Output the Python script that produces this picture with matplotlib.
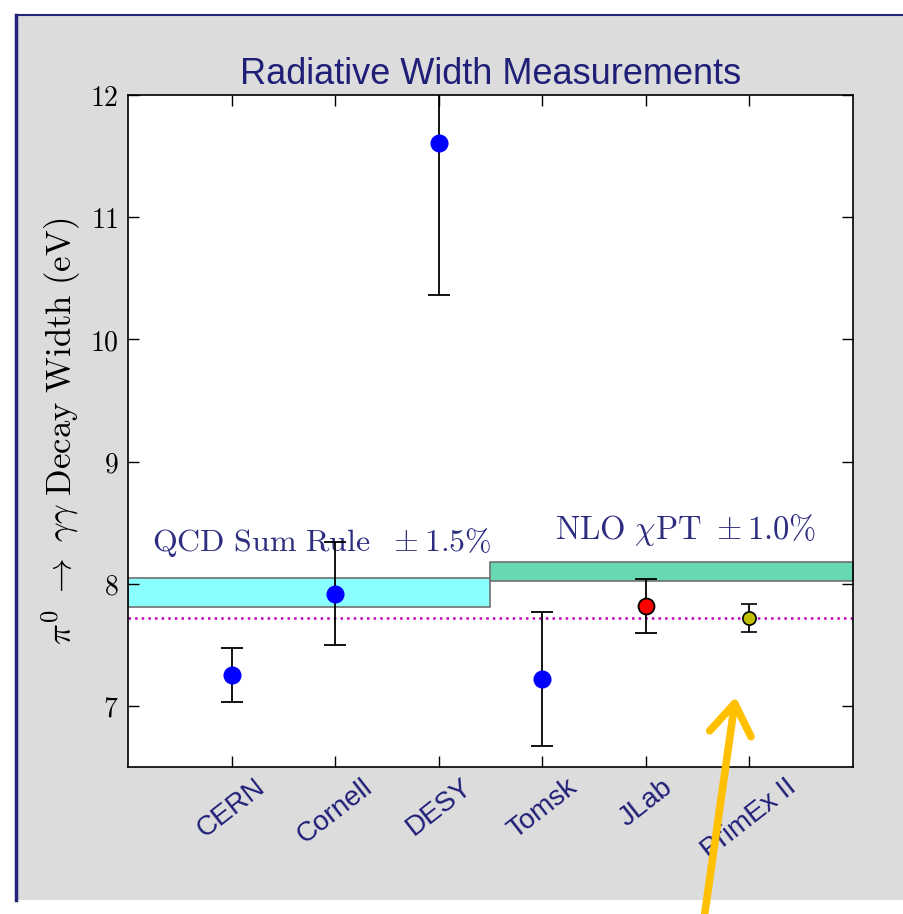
import numpy as np
import matplotlib.pyplot as plt
from matplotlib.patches import Rectangle
from matplotlib.lines import Line2D

plt.rcParams['mathtext.fontset'] = 'cm'

# measurements of the pi0 -> gamma gamma width (eV)
labels = ['CERN', 'Cornell', 'DESY', 'Tomsk', 'JLab', 'PrimEx II']
widths = [7.25, 7.92, 11.61, 7.22, 7.82, 7.72]
errors = [0.22, 0.42, 1.25, 0.55, 0.22, 0.115]

# theory bands: centre value and relative uncertainty
qcd_center, qcd_rel = 7.93, 0.015
nlo_center, nlo_rel = 8.10, 0.010
pdg_line = 7.72

navy = '#1f1f78'
textnavy = '#2e2e80'

fig = plt.figure(figsize=(9.04, 9.14), dpi=100)
fig.patch.set_facecolor('white')

# grey panel with a navy frame on the left and top
W, H = 904.0, 914.0
fig.patches.append(Rectangle((17 / W, 14 / H), 1 - 17 / W, 1 - 14 / H - 16 / H,
                             transform=fig.transFigure, facecolor='#dcdcdc',
                             edgecolor='none', zorder=-5))
fig.lines.append(Line2D([16 / W, 16 / W], [14 / H, 1 - 15 / H], transform=fig.transFigure,
                        color='#23237a', lw=2.5, zorder=-4))
fig.lines.append(Line2D([16 / W, 1], [1 - 15 / H, 1 - 15 / H], transform=fig.transFigure,
                        color='#23237a', lw=1.5, zorder=-4))

ax = fig.add_axes([128 / W, 147 / H, 725 / W, 672 / H])
ax.set_facecolor('white')

x = np.arange(1, len(labels) + 1)

# theory bands
ax.fill_between([0, 3.5], qcd_center * (1 - qcd_rel), qcd_center * (1 + qcd_rel),
                facecolor='#8affff', edgecolor='#707070', lw=1.2, zorder=1)
ax.fill_between([3.5, 7], nlo_center * (1 - nlo_rel), nlo_center * (1 + nlo_rel),
                facecolor='#66d8b2', edgecolor='#707070', lw=1.2, zorder=1)
ax.axhline(pdg_line, color='m', ls=':', lw=1.8, zorder=1)

ax.text(0.23, 8.27, r'$\mathrm{QCD\ Sum\ Rule}\ \ \pm 1.5\%$', color=textnavy, fontsize=23)
ax.text(4.12, 8.37, r'$\mathrm{NLO}\ \chi\mathrm{PT}\ \pm 1.0\%$', color=textnavy, fontsize=23.5)

# older measurements
for i in range(4):
    line, caps, bars = ax.errorbar(x[i], widths[i], yerr=errors[i], fmt='o', color='b',
                                   ms=12, mec='b', ecolor='k', elinewidth=1.3,
                                   capsize=8, capthick=1.3, zorder=3)
    for c in caps:
        c.set_color('#a8a8a8')

ax.errorbar(x[4], widths[4], yerr=errors[4], fmt='o', color='r', ms=11.5, mec='k',
            mew=1.3, ecolor='k', elinewidth=1.3, capsize=8, capthick=1.5, zorder=3)
ax.errorbar(x[5], widths[5], yerr=errors[5], fmt='o', color='y', ms=9.5, mec='k',
            mew=1.2, ecolor='k', elinewidth=1.3, capsize=6, capthick=1.5, zorder=3)

ax.set_xlim(0, 7)
ax.set_ylim(6.5, 12)
ax.set_xticks(x)
ax.set_xticklabels(labels, rotation=38, color=navy, fontsize=20)
ax.set_yticks([7, 8, 9, 10, 11, 12])
ax.set_yticklabels([r'$%d$' % v for v in [7, 8, 9, 10, 11, 12]], fontsize=20)
ax.tick_params(direction='in', length=8, width=1, top=True, right=True)
ax.tick_params(axis='x', pad=5)
ax.tick_params(axis='y', pad=7)
for s in ax.spines.values():
    s.set_linewidth(1.2)

ax.set_ylabel(r'$\pi^0\ \rightarrow\ \gamma\gamma\ \mathrm{Decay\ Width\ (eV)}$', fontsize=25,
              labelpad=5)
ax.set_title('Radiative Width Measurements', color=navy, fontsize=26,
             family='Liberation Sans', pad=8)
for t in ax.get_xticklabels():
    t.set_family('Liberation Sans')

# orange pointer towards the new result
ax.annotate('', xy=(736, H - 694), xycoords='figure pixels',
            xytext=(704, -5), textcoords='figure pixels',
            arrowprops=dict(arrowstyle='->,head_length=1.1,head_width=0.75',
                            color='#ffc000', lw=5.5, mutation_scale=20,
                            capstyle='round', joinstyle='round'),
            annotation_clip=False, zorder=20)

fig.savefig('out.png', dpi=100)
